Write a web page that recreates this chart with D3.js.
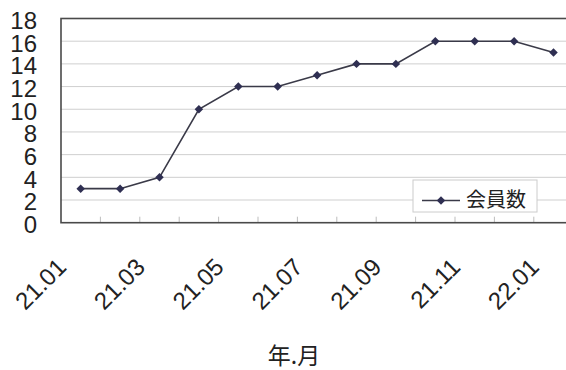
<!DOCTYPE html>
<html><head><meta charset="utf-8">
<script src="https://cdn.jsdelivr.net/npm/d3@7"></script>
<style>body{margin:0;background:#fff}svg{display:block}</style>
</head><body>
<svg id="c" width="566" height="370"></svg>
<script>
const months = ["21.01","21.02","21.03","21.04","21.05","21.06","21.07","21.08","21.09","21.10","21.11","21.12","22.01"];
const members = [3,3,4,10,12,12,13,14,14,16,16,16,15];
const yTicks = [0,2,4,6,8,10,12,14,16,18];
const xLabels = ["21.01","21.03","21.05","21.07","21.09","21.11","22.01"];
const seriesName = "会員数";
const xTitle = "年.月";

const svg = d3.select("#c");
const pLeft = 61, pTop = 18.5, pBottom = 222.7, bw = 39.4;
const pRight = pLeft + bw * months.length;

const x = d3.scaleBand().domain(months).range([pLeft, pRight]);
const y = d3.scaleLinear().domain([0, 18]).range([pBottom, pTop]);

svg.append("rect").attr("width",566).attr("height",370).attr("fill","#fff");

// gridlines
svg.append("g").selectAll("line").data(yTicks.filter(d=>d>0&&d<18)).join("line")
  .attr("x1", pLeft).attr("x2", pRight)
  .attr("y1", d=>y(d)).attr("y2", d=>y(d))
  .attr("stroke", "#cfcfcf").attr("stroke-width", 1);

// inner tick marks at band boundaries
svg.append("g").selectAll("line").data(months.slice(1)).join("line")
  .attr("x1", d=>x(d)).attr("x2", d=>x(d))
  .attr("y1", pBottom).attr("y2", pBottom-6)
  .attr("stroke", "#bdbdbd").attr("stroke-width", 1);

// frame
svg.append("rect").attr("x", pLeft).attr("y", y(18))
  .attr("width", pRight-pLeft).attr("height", y(0)-y(18))
  .attr("fill","none").attr("stroke","#4a4a4a").attr("stroke-width",1.6);

// y axis labels
svg.append("g").selectAll("text").data(yTicks).join("text")
  .attr("x", 37).attr("y", d=>y(d)).attr("dy","0.43em")
  .attr("text-anchor","end")
  .attr("font-family","Liberation Sans, Arial, sans-serif")
  .attr("font-size", 24).attr("fill","#222")
  .text(d=>d);

// x labels
svg.append("g").selectAll("text").data(xLabels).join("text")
  .attr("text-anchor","end")
  .attr("transform", d=>`translate(${x(d)+x.bandwidth()/2-13},268.5) rotate(-45)`)
  .attr("font-family","Liberation Sans, Arial, sans-serif")
  .attr("font-size", 24).attr("fill","#222")
  .text(d=>d);

// line
const line = d3.line().x((d,i)=>x(months[i])+x.bandwidth()/2).y(d=>y(d));
svg.append("path").datum(members).attr("d", line)
  .attr("fill","none").attr("stroke","#3a3a48").attr("stroke-width",1.6);

const diamond = d3.symbol().type(d3.symbolDiamond2).size(46);
svg.append("g").selectAll("path").data(members).join("path")
  .attr("d", diamond)
  .attr("transform", (d,i)=>`translate(${x(months[i])+x.bandwidth()/2},${y(d)})`)
  .attr("fill","#2f2f52");

// legend
const lg = svg.append("g");
lg.append("rect").attr("x",413).attr("y",180).attr("width",124).attr("height",32)
  .attr("fill","#fff").attr("stroke","#cccccc").attr("stroke-width",1);
lg.append("line").attr("x1",422).attr("x2",460).attr("y1",200.5).attr("y2",200.5)
  .attr("stroke","#3a3a48").attr("stroke-width",1.6);
lg.append("path").attr("d", diamond).attr("transform","translate(441,200.5)").attr("fill","#2f2f52");
lg.append("text").attr("x",466).attr("y",206.5)
  .attr("font-family","Noto Sans CJK JP, sans-serif").attr("font-size",20).attr("fill","#222")
  .text(seriesName);

// x title
svg.append("text").attr("x",294).attr("y",364).attr("text-anchor","middle")
  .attr("font-family","Noto Sans CJK JP, sans-serif").attr("font-size",23).attr("fill","#222")
  .text(xTitle);
</script>
</body></html>
